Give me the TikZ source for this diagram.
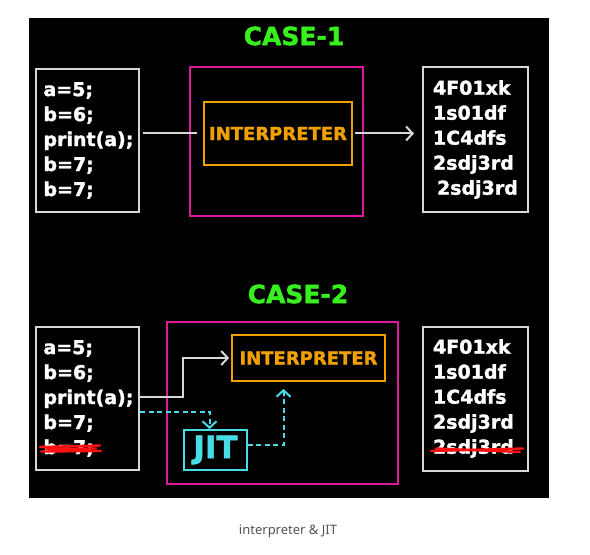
\documentclass[tikz,border=0pt]{standalone}
\usepackage{fontspec}
\setmainfont{DejaVu Sans}[BoldFeatures={FakeBold=1.6}]
\newfontfamily\captionfont{Noto Sans}
\usetikzlibrary{positioning,arrows.meta}
\definecolor{casegreen}{HTML}{38F01E}
\definecolor{boxgray}{HTML}{D8D8D8}
\definecolor{interporange}{HTML}{F0A000}
\definecolor{enginepink}{HTML}{E0189C}
\definecolor{jitcyan}{HTML}{48DCE6}
\definecolor{strikered}{HTML}{FF1010}
\definecolor{captiongray}{HTML}{555555}

\begin{document}
\begin{tikzpicture}[x=1bp, y=-1bp,
    codebox/.style={draw=boxgray, line width=2bp, text=white, align=left,
      text width=88bp, inner xsep=7.5bp, inner ysep=0pt, minimum height=143bp,
      font=\bfseries\fontsize{19bp}{25bp}\selectfont},
    outbox/.style={codebox, text width=85bp, inner xsep=10bp, minimum height=145bp},
    enginebox/.style={draw=enginepink, line width=1.8bp},
    interpbox/.style={draw=interporange, line width=1.8bp, text=interporange,
      font=\bfseries\fontsize{18bp}{18bp}\selectfont},
    caselabel/.style={text=casegreen, font=\bfseries\fontsize{25bp}{25bp}\selectfont},
    flow/.style={draw=boxgray, line width=2bp},
    jitflow/.style={draw=jitcyan, line width=2bp, dash pattern=on 5bp off 3.5bp},
    strike/.style={draw=strikered, line width=2.4bp, line cap=round},
    barb/.style={-{Straight Barb[length=6.5bp,width=14bp,line width=2bp]}}]

    % page and panel
    \useasboundingbox (0,0) rectangle (590,555);
    \fill[white] (0,0) rectangle (590,555);
    \fill[black] (29,18) rectangle (549,498);

    % case 1
    \node[caselabel] (case1) at (294,36) {CASE-1};
    \node[codebox] (code1) at (87.5,140.5)
      {a=5;\\b=6;\\print(a);\\b=7;\\b=7;};
    \node[enginebox, minimum width=173bp, minimum height=149bp] (engine1) at (276.5,141.5) {};
    \node[interpbox, minimum width=148bp, minimum height=63bp] (interp1) at (278,133.5) {INTERPRETER};
    \node[outbox] (out1) at (475.5,139.5)
      {4F01xk\\1s01df\\1C4dfs\\2sdj3rd\\\hspace*{4bp}2sdj3rd};

    \draw[flow, shorten <=3bp, shorten >=6bp] (code1.east |- interp1) -- (interp1.west);
    \draw[flow, barb, shorten <=2bp, shorten >=8bp] (interp1.east) -- (out1.west |- interp1);

    % case 2
    \node[caselabel] (case2) at (298,294) {CASE-2};
    \node[codebox] (code2) at (87.5,398.5)
      {a=5;\\b=6;\\print(a);\\b=7;\\b=7;};
    \node[enginebox, minimum width=231bp, minimum height=162bp] (engine2) at (282.5,403) {};
    \node[interpbox, minimum width=153bp, minimum height=46bp] (interp2) at (308.5,358) {INTERPRETER};
    \node[draw=jitcyan, line width=1.8bp, text=jitcyan, minimum width=63bp, minimum height=40bp,
      font=\bfseries\fontsize{31bp}{31bp}\selectfont] (jit) at (215.5,450) {JIT};
    \node[outbox, minimum height=144bp] (out2) at (475.5,398.5)
      {4F01xk\\1s01df\\1C4dfs\\2sdj3rd\\2sdj3rd};

    % connectors
    \draw[flow, barb, shorten >=2bp] ([yshift=2bp]code2.east) -- ++(43,0) |- (interp2.west);
    \draw[jitflow, barb] ([yshift=-13bp]code2.east) -| ([xshift=-6bp]jit.north);
    \draw[jitflow, barb] ([yshift=5bp]jit.east) -| ([xshift=-25bp,yshift=-7bp]interp2.south);

    % struck lines
    \draw[strike] (40,447) -- (100,445.5);
    \draw[strike] (41,451.5) -- (101,451);
    \draw[strike] (46,449) -- (96,448.5);
    \draw[strike] (431,451) -- (523,448.5);
    \draw[strike] (436,448.5) -- (520,452);

    % caption
    \node[text=captiongray, font=\captionfont\fontsize{13bp}{13bp}\selectfont] (caption) at (288,531)
      {interpreter \& JIT};
\end{tikzpicture}
\end{document}
